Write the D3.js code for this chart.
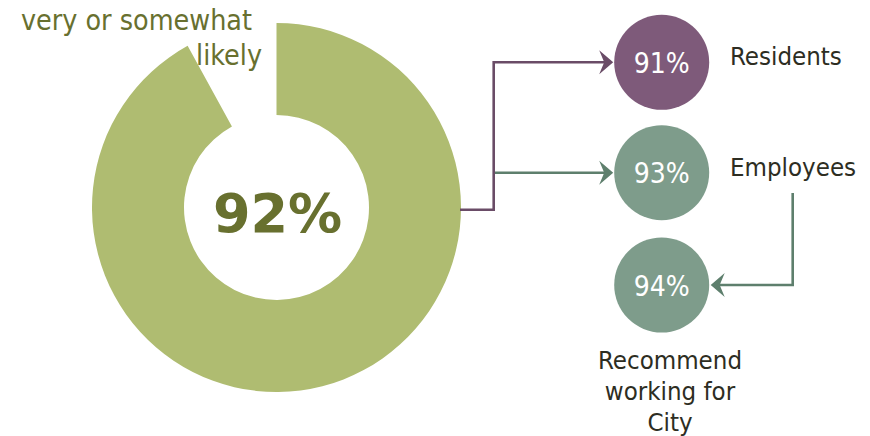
<!DOCTYPE html>
<html>
<head>
<meta charset="utf-8">
<script src="https://cdn.jsdelivr.net/npm/d3@7"></script>
<style>
  html, body { margin: 0; padding: 0; background: #fff; }
  svg { display: block; font-family: "DejaVu Sans Condensed", "DejaVu Sans", Verdana, sans-serif; }
</style>
</head>
<body>
<svg id="chart" width="870" height="436"></svg>
<script>
// Share answering "very or somewhat likely"
const overallValue = 92;
const overallCaption = ["very or somewhat", "likely"];

// Breakdown bubbles
const groupNames = ["Residents", "Employees", "Recommend working for City"];
const groupValues = [91, 93, 94];

const colors = {
  donut: "#afbc71",
  olive: "#68702f",
  purple: "#7e5a7a",
  purpleLine: "#6a4c67",
  teal: "#7e9c8b",
  tealLine: "#5e7f6d",
  label: "#2d2d22"
};

const svg = d3.select("#chart");

// ---- Donut ----
const cx = 276.5, cy = 207.5, rOuter = 184.5, rInner = 92.5;
const pie = d3.pie().sort(null).value(d => d)([overallValue, 100 - overallValue]);
const arc = d3.arc().innerRadius(rInner).outerRadius(rOuter);

const donut = svg.append("g").attr("transform", `translate(${cx},${cy})`);
donut.append("path").attr("d", arc(pie[0])).attr("fill", colors.donut);

donut.append("text")
  .attr("x", 1).attr("y", 24.5)
  .attr("text-anchor", "middle")
  .attr("font-family", "DejaVu Sans, Verdana, sans-serif")
  .attr("font-weight", "bold")
  .attr("font-size", 54)
  .attr("fill", colors.olive)
  .text(overallValue + "%");

svg.append("text")
  .attr("x", 252).attr("y", 30)
  .attr("text-anchor", "end")
  .attr("font-size", 28.4)
  .attr("fill", colors.olive)
  .text(overallCaption[0]);
svg.append("text")
  .attr("x", 262).attr("y", 65)
  .attr("text-anchor", "end")
  .attr("font-size", 28.4)
  .attr("fill", colors.olive)
  .text(overallCaption[1]);

// ---- Bubbles ----
const bubbleR = 47.5;
const bubbles = [
  { x: 661.7, y: 62.3, fill: colors.purple },
  { x: 661.7, y: 172.7, fill: colors.teal },
  { x: 661.7, y: 285, fill: colors.teal }
];

const g = svg.append("g");
bubbles.forEach((b, i) => {
  g.append("circle").attr("cx", b.x).attr("cy", b.y).attr("r", bubbleR).attr("fill", b.fill);
  g.append("text")
    .attr("x", b.x).attr("y", b.y + 10.5)
    .attr("text-anchor", "middle")
    .attr("font-size", 28)
    .attr("fill", "#ffffff")
    .text(groupValues[i] + "%");
});

// Bubble captions
const labelSize = 25.6;
svg.append("text").attr("x", 730).attr("y", 65).attr("font-size", labelSize)
  .attr("fill", colors.label).text(groupNames[0]);
svg.append("text").attr("x", 730).attr("y", 176).attr("font-size", labelSize)
  .attr("fill", colors.label).text(groupNames[1]);
const capLines = ["Recommend", "working for", "City"];
capLines.forEach((t, i) => {
  svg.append("text").attr("x", 670).attr("y", 368.5 + i * 31)
    .attr("text-anchor", "middle").attr("font-size", labelSize)
    .attr("fill", colors.label).text(t);
});

// ---- Connectors ----
function arrowHead(x, y, dir, color) {
  // dir: 1 points right, -1 points left
  const L = 14, H = 12, N = 9;
  const pts = [[x, y], [x - dir * L, y - H], [x - dir * N, y], [x - dir * L, y + H]];
  svg.append("path").attr("d", "M" + pts.map(p => p.join(",")).join("L") + "Z").attr("fill", color);
}

const trunkX = 493.7;
const tipLeft = bubbles[0].x - bubbleR - 1;

svg.append("path")
  .attr("d", `M${cx + rOuter - 1},209.7H${trunkX}V${bubbles[0].y}H${tipLeft - 8}`)
  .attr("fill", "none").attr("stroke", colors.purpleLine).attr("stroke-width", 2.6)
  .attr("stroke-linejoin", "miter");
arrowHead(tipLeft, bubbles[0].y, 1, colors.purpleLine);

svg.append("path")
  .attr("d", `M${trunkX + 1.3},${bubbles[1].y}H${tipLeft - 8}`)
  .attr("fill", "none").attr("stroke", colors.tealLine).attr("stroke-width", 2.6);
arrowHead(tipLeft, bubbles[1].y, 1, colors.tealLine);

const tipRight = bubbles[2].x + bubbleR + 1.5;
svg.append("path")
  .attr("d", `M792.7,193V${bubbles[2].y}H${tipRight + 8}`)
  .attr("fill", "none").attr("stroke", colors.tealLine).attr("stroke-width", 2.6)
  .attr("stroke-linejoin", "miter");
arrowHead(tipRight, bubbles[2].y, -1, colors.tealLine);
</script>
</body>
</html>
